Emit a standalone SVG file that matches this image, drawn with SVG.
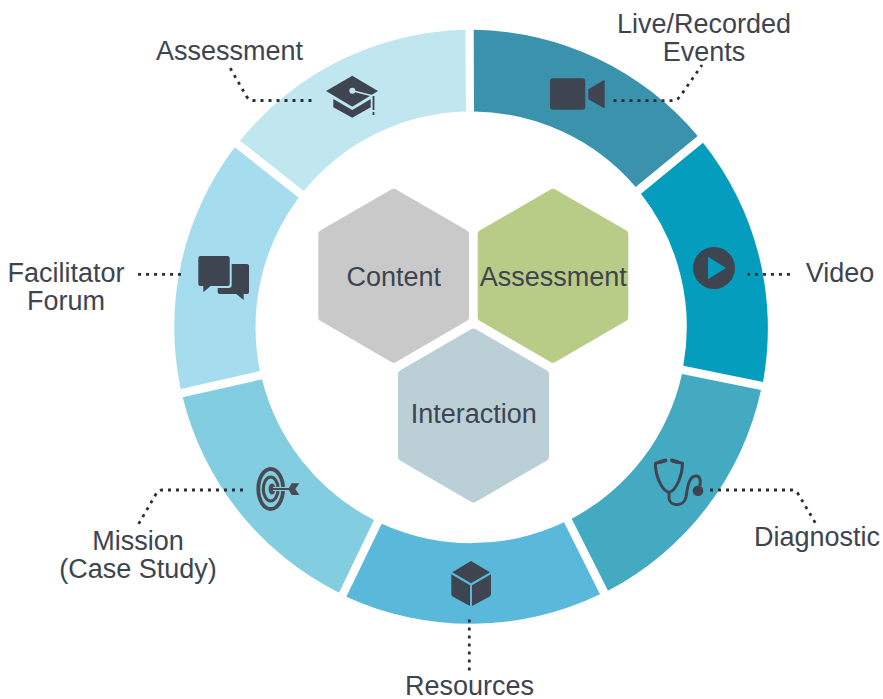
<svg xmlns="http://www.w3.org/2000/svg" width="883" height="699" viewBox="0 0 883 699">
<style>
.t{font-family:"Liberation Sans",Arial,sans-serif;font-size:27px;fill:#3e4450;text-anchor:middle}
.d{fill:none;stroke:#2b2f36;stroke-width:2.8;stroke-dasharray:3 5}
.i{fill:#3e4450}
.hx{stroke-width:8;stroke-linejoin:round}
</style>
<rect width="883" height="699" fill="#ffffff"/>
<g id="ring">
<path id="seg-live" fill="#3b92ad" d="M473.7 29.7A298 298 0 0 1 697.7 136L635.7 187A216.5 216.5 0 0 0 474 111.5Z"/>
<path id="seg-video" fill="#059dbd" d="M703 142.7A298 298 0 0 1 763 382L683.3 365.7A216.5 216.5 0 0 0 641 193.7Z"/>
<path id="seg-diagnostic" fill="#43aac1" d="M761 390A298 298 0 0 1 608 590.7L571.7 518.7A216.5 216.5 0 0 0 682 374Z"/>
<path id="seg-resources" fill="#5ab9da" d="M600 594.3A298 298 0 0 1 346.3 596.7L381.7 523.7A216.5 216.5 0 0 0 564 522.3Z"/>
<path id="seg-mission" fill="#82cddf" d="M339 592.7A298 298 0 0 1 182.7 397.3L262 379.3A216.5 216.5 0 0 0 374 520Z"/>
<path id="seg-forum" fill="#a5ddef" d="M180.7 389A298 298 0 0 1 234.7 147.3L298.7 197.7A216.5 216.5 0 0 0 260 371Z"/>
<path id="seg-assessment" fill="#c0e6ef" d="M240 140.7A298 298 0 0 1 465.3 29.7L466 111.5A216.5 216.5 0 0 0 303.8 191Z"/>
</g>
<g id="connectors">
<path class="d" d="M311.5 100.5H253Q249 100.5 246.3 96L229 66"/>
<path class="d" d="M613.5 100.7H672Q677 100.7 680 96.5L702 65"/>
<path class="d" d="M790 274.3H747.5"/>
<path class="d" d="M710 490H792Q796 490 798.5 494.5L816 524"/>
<path class="d" d="M181 274.3H137"/>
<path class="d" d="M243 490H162Q158.5 490 156 494L138 525"/>
<path class="d" d="M469.3 619.5V671"/>
</g>
<g id="node-content">
<path class="hx" fill="#c9c9c9" stroke="#c9c9c9" d="M393.7 192.7L465 234V317.4L393.7 358.7L322.3 317.4V234Z"/>
<text class="t" x="393.7" y="286">Content</text>
</g>
<g id="node-assessment-hex">
<path class="hx" fill="#b9cc87" stroke="#b9cc87" d="M553 192.7L624.3 234V317.4L553 358.7L481.7 317.4V234Z"/>
<text class="t" x="553.3" y="286">Assessment</text>
</g>
<g id="node-interaction">
<path class="hx" fill="#bacfd6" stroke="#bacfd6" d="M473.5 332.5L545 374V457L473.5 498.5L402 457V374Z"/>
<text class="t" x="473.7" y="423">Interaction</text>
</g>
<g id="node-assessment">
<path class="i" d="M352.3 75.7L378 91L352.3 106.7L326 91Z"/>
<path class="i" d="M333.3 99L352.3 110L370.7 99V107.3L352.3 117.7L333.3 107.3Z"/>
<path d="M335 98.5L349 106.5Q352.5 108 356 106.5L371 97.5" fill="none" stroke="#c0e6ef" stroke-width="1.2"/>
<circle cx="352.3" cy="90.7" r="3" fill="#c0e6ef"/>
<path d="M352.3 90.7L373.3 96" fill="none" stroke="#c0e6ef" stroke-width="1.5"/>
<path d="M373.5 96V110M373.5 112V115" fill="none" stroke="#3e4450" stroke-width="1.8"/>
<text class="t" x="229.5" y="60">Assessment</text>
</g>
<g id="node-live">
<rect class="i" x="550" y="78.3" width="35.3" height="31.4" rx="3"/>
<path class="i" d="M588.3 89.3L603.7 80.3Q604.7 80 604.7 81V107.5Q604.7 108.5 603.7 108L588.3 99.3Z"/>
<text class="t" x="704" y="33">Live/Recorded</text>
<text class="t" x="704" y="61">Events</text>
</g>
<g id="node-video">
<circle class="i" cx="714" cy="268" r="21"/>
<path fill="#059dbd" d="M708 256.7L726 268L708 279.3Z"/>
<text class="t" x="840" y="282">Video</text>
</g>
<g id="node-diagnostic">
<path d="M665 460.7L655.5 463.3C655 474 661 490 669 492.5C677 490 682.5 474 682.5 463.3L672 460.7M669 492V498C669 506.5 684 507.5 686 497C687.5 488 688.5 475 697 476C700.5 476.5 700.5 482 700 486" fill="none" stroke="#3e4450" stroke-width="3" stroke-linejoin="round"/>
<path d="M660.5 461.8L665.5 460.5M672 460.5L677 461.8" fill="none" stroke="#3e4450" stroke-width="3.8" stroke-linecap="round"/>
<circle class="i" cx="698" cy="490.7" r="5.3"/>
<text class="t" x="817" y="546">Diagnostic</text>
</g>
<g id="node-resources">
<path class="i" d="M471 561L490 572.3L471 583.3L452.3 572.3Z"/>
<path class="i" d="M451.3 574.3L470 585.3V606L453 596.7Q451.3 595.7 451.3 594Z"/>
<path class="i" d="M472 585.3L491 574.3V594Q491 595.7 489.3 596.7L472 606Z"/>
<text class="t" x="469.5" y="695">Resources</text>
</g>
<g id="node-mission">
<ellipse cx="270.7" cy="489" rx="12.4" ry="20" fill="none" stroke="#4a4b52" stroke-width="3.8"/>
<ellipse cx="270.7" cy="489" rx="7.4" ry="12" fill="none" stroke="#4a4b52" stroke-width="3.2"/>
<ellipse cx="272" cy="489" rx="3.4" ry="5.6" fill="#4a4b52"/>
<path d="M273 489H290" stroke="#82cddf" stroke-width="4.2" fill="none"/>
<path d="M273 489H290" stroke="#4a4b52" stroke-width="2" fill="none"/>
<path fill="#4a4b52" d="M288.3 489L291.7 483.3H299.3L295.3 489L299.3 495H291.7Z"/>
<text class="t" x="138" y="550">Mission</text>
<text class="t" x="138" y="578">(Case Study)</text>
</g>
<g id="node-forum">
<rect class="i" x="217.7" y="264" width="31.3" height="30" rx="2"/>
<path class="i" d="M235 293L243.7 300V293Z"/>
<rect x="196.3" y="254" width="35.4" height="34" rx="3" fill="#a5ddef"/>
<rect class="i" x="198.3" y="256" width="31.4" height="30" rx="2"/>
<path class="i" d="M203.3 285V292.3L211.7 285Z"/>
<text class="t" x="66" y="281.5">Facilitator</text>
<text class="t" x="66" y="309.5">Forum</text>
</g>
</svg>
